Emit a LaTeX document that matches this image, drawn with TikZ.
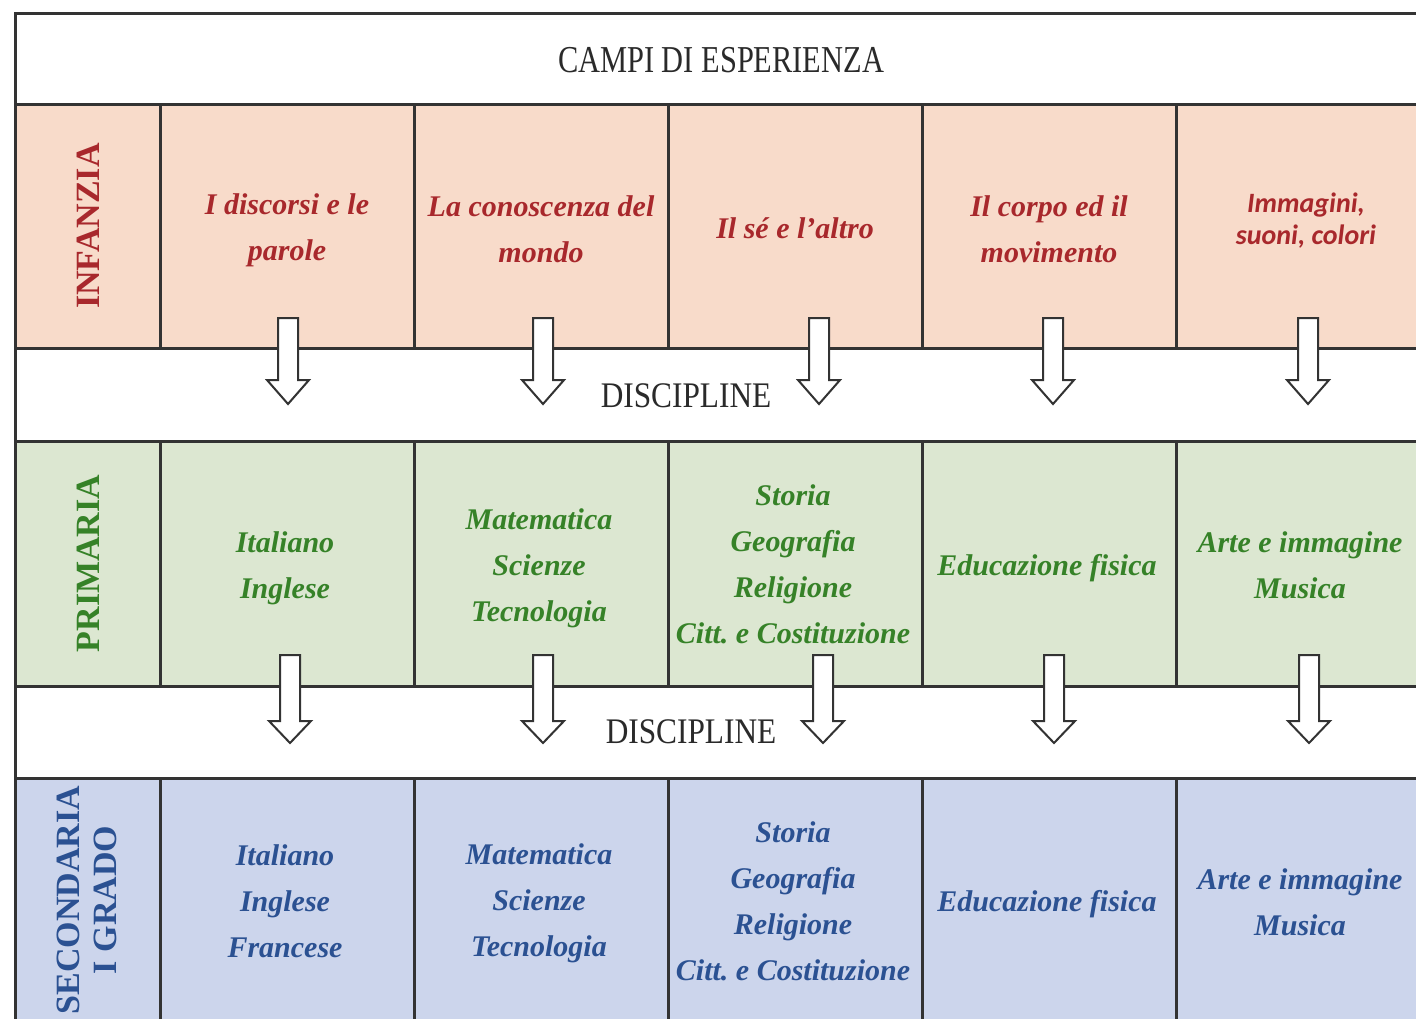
\documentclass[tikz,border=0pt]{standalone}
\usepackage{fontspec}
\setmainfont{Liberation Serif}
\newfontfamily\carl{Carlito}
\definecolor{linec}{HTML}{333333}
\definecolor{infF}{HTML}{F8DBCA}
\definecolor{infT}{HTML}{A8282C}
\definecolor{priF}{HTML}{DCE7D1}
\definecolor{priT}{HTML}{368228}
\definecolor{secF}{HTML}{CCD5EC}
\definecolor{secT}{HTML}{2B5192}
\definecolor{hdT}{HTML}{2A2A2A}
\tikzset{
  cellbox/.style={draw=linec, line width=1.5pt, inner sep=0pt, align=center, minimum width=127pt},
  labbox/.style={cellbox, minimum width=72.5pt},
  infrow/.style={minimum height=122pt, fill=infF, text=infT},
  prirow/.style={minimum height=122.5pt, fill=priF, text=priT},
  secrow/.style={minimum height=124pt, fill=secF, text=secT},
  bodyfont/.style={font=\fontsize{15pt}{23pt}\selectfont\bfseries\itshape},
  vlab/.style={rotate=90, align=center, font=\fontsize{17pt}{18.5pt}\selectfont\bfseries},
  blockarrow/.style={draw=linec, line width=1pt, fill=white, line join=miter},
}
\newcommand\myarrow[4]{% x, top y, shaft length, head length
  \coordinate (ar#1#2) at (#1,#2);
  \draw[blockarrow] (ar#1#2) ++(-10,0) -- ++(20,0) -- ++(0,#3) -- ++(11,0) -- ++(-21,#4) -- ++(-21,-#4) -- ++(11,0) -- cycle;
}
\begin{document}
\begin{tikzpicture}[x=0.5pt,y=-0.5pt]
\useasboundingbox (0,0) rectangle (1416,1018);
\clip (0,0) rectangle (1416,1018);
\fill[white] (0,0) rectangle (1416,1018);
% header
\node[cellbox, minimum width=707.5pt, minimum height=45.5pt, fill=white] (hdr) at (722.5,58.5) {};
\node[text=hdT, font=\fontsize{19pt}{20pt}\selectfont] (hdrt) at (721,60) {\scalebox{0.8}[1]{CAMPI DI ESPERIENZA}};
% infanzia row
\node[labbox, infrow] (inf0) at (87.5,226) {};
\node[cellbox, infrow] (inf1) at (287,226) {};
\node[cellbox, infrow] (inf2) at (541,226) {};
\node[cellbox, infrow] (inf3) at (795,226) {};
\node[cellbox, infrow] (inf4) at (1049,226) {};
\node[cellbox, infrow] (inf5) at (1303,226) {};
\node[bodyfont, text=infT, align=center] (inf1t) at (287,230) {I discorsi e le\\parole};
\node[bodyfont, text=infT, align=center] (inf2t) at (541,229) {La conoscenza del\\mondo};
\node[bodyfont, text=infT, align=center] (inf3t) at (795,228) {Il sé e l'altro};
\node[bodyfont, text=infT, align=center] (inf4t) at (1049,229) {Il corpo ed il\\movimento};
\node[text=infT, align=center, font=\fontsize{14pt}{16pt}\selectfont\carl\bfseries\itshape] (inf5t) at (1306,221) {Immagini,\\suoni, colori};
\node[vlab, text=infT] (linf) at (88,226) {INFANZIA};
% discipline 1
\node[cellbox, minimum width=707.5pt, minimum height=46.5pt, fill=white] (dis1) at (722.5,394.5) {};
\node[text=hdT, font=\fontsize{18pt}{20pt}\selectfont] (dis1t) at (686,396) {\scalebox{0.87}[1]{DISCIPLINE}};
% primaria row
\node[labbox, prirow] (pri0) at (87.5,563.5) {};
\node[cellbox, prirow] (pri1) at (287,563.5) {};
\node[cellbox, prirow] (pri2) at (541,563.5) {};
\node[cellbox, prirow] (pri3) at (795,563.5) {};
\node[cellbox, prirow] (pri4) at (1049,563.5) {};
\node[cellbox, prirow] (pri5) at (1303,563.5) {};
\node[bodyfont, text=priT, align=center] (pri1t) at (285,568) {Italiano\\Inglese};
\node[bodyfont, text=priT, align=center] (pri2t) at (539,568) {Matematica\\Scienze\\Tecnologia};
\node[bodyfont, text=priT, align=center] (pri3t) at (793,564) {Storia\\Geografia\\Religione\\Citt.\ e Costituzione};
\node[bodyfont, text=priT, align=center] (pri4t) at (1047,568) {Educazione fisica};
\node[bodyfont, text=priT, align=center] (pri5t) at (1300,565) {Arte e immagine\\Musica};
\node[vlab, text=priT] (lpri) at (88,563.5) {PRIMARIA};
% discipline 2
\node[cellbox, minimum width=707.5pt, minimum height=46pt, fill=white] (dis2) at (722.5,732) {};
\node[text=hdT, font=\fontsize{18pt}{20pt}\selectfont] (dis2t) at (691,732) {\scalebox{0.87}[1]{DISCIPLINE}};
% secondaria row
\node[labbox, secrow] (sec0) at (87.5,902) {};
\node[cellbox, secrow] (sec1) at (287,902) {};
\node[cellbox, secrow] (sec2) at (541,902) {};
\node[cellbox, secrow] (sec3) at (795,902) {};
\node[cellbox, secrow] (sec4) at (1049,902) {};
\node[cellbox, secrow] (sec5) at (1303,902) {};
\node[bodyfont, text=secT, align=center] (sec1t) at (285,901) {Italiano\\Inglese\\Francese};
\node[bodyfont, text=secT, align=center] (sec2t) at (539,903) {Matematica\\Scienze\\Tecnologia};
\node[bodyfont, text=secT, align=center] (sec3t) at (793,901) {Storia\\Geografia\\Religione\\Citt.\ e Costituzione};
\node[bodyfont, text=secT, align=center] (sec4t) at (1047,904) {Educazione fisica};
\node[bodyfont, text=secT, align=center] (sec5t) at (1300,902) {Arte e immagine\\Musica};
\node[vlab, text=secT] (lsec) at (86.5,900) {SECONDARIA\\I GRADO};
% arrows
\myarrow{288}{318}{62}{24}
\myarrow{543}{318}{62}{24}
\myarrow{819}{318}{62}{24}
\myarrow{1053}{318}{62}{24}
\myarrow{1308}{318}{62}{24}
\myarrow{290}{655}{66}{22}
\myarrow{543}{655}{66}{22}
\myarrow{823}{655}{66}{22}
\myarrow{1054}{655}{66}{22}
\myarrow{1309}{655}{66}{22}
\end{tikzpicture}
\end{document}
